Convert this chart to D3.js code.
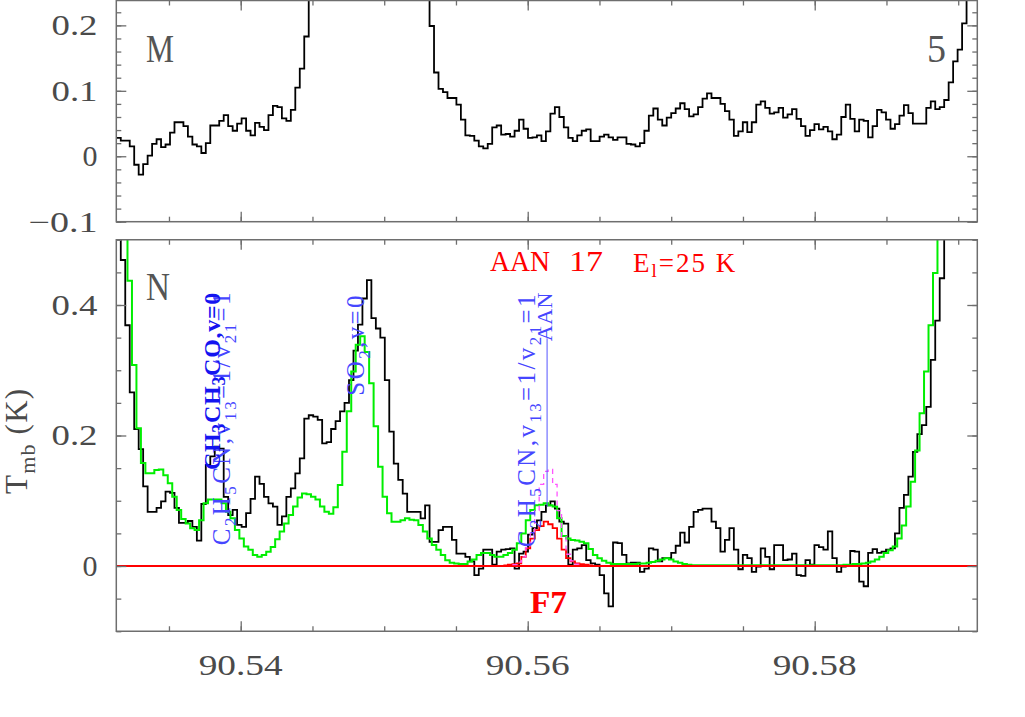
<!DOCTYPE html>
<html><head><meta charset="utf-8">
<script src="https://cdn.jsdelivr.net/npm/d3@7"></script>
<style>
html,body{margin:0;padding:0;background:#fff;}
svg{display:block;}
text{font-family:"Liberation Serif","Times New Roman",serif;}
</style></head>
<body><svg id="c" width="1025" height="717"></svg>
<script>
// ---------------- data ----------------
const freqStart = 90.53133;      // GHz, first channel edge
const chanWidth = 0.00031185;    // GHz per channel
const modelOffset = 0.5;         // model channels shifted by half a channel
const xMajorTicks = [90.54, 90.56, 90.58];
const xTickLabels = ["90.54", "90.56", "90.58"];
const topYTicks = [0.2, 0.1, 0, -0.1];
const topYLabels = ["0.2", "0.1", "0", "\u22120.1"];
const botYTicks = [0.4, 0.2, 0];
const botYLabels = ["0.4", "0.2", "0"];

// Sgr B2(M) observed spectrum (K)
const specM = [0.028,0.024,0.024,0.015,-0.013,-0.028,-0.012,0.001,0.019,0.026,
0.014,0.018,0.036,0.052,0.052,0.046,0.030,0.018,0.015,0.005,
0.020,0.047,0.047,0.054,0.063,0.046,0.039,0.050,0.058,0.039,
0.032,0.051,0.045,0.040,0.063,0.077,0.075,0.058,0.054,0.071,
0.105,0.134,0.183,
0.27,0.32,0.40,0.50,0.70,0.90,1.20,1.50,1.80,2.00,2.10,2.00,1.80,1.50,1.30,1.10,0.90,0.80,0.70,0.60,0.50,0.45,0.40,0.35,0.32,0.29,0.26,
0.199,0.128,0.103,0.098,0.089,0.089,0.079,0.056,0.032,0.031,
0.024,0.015,0.012,0.019,0.044,0.047,0.033,0.034,0.030,0.039,
0.056,0.042,0.028,0.029,0.032,0.023,0.038,0.065,0.075,0.060,
0.044,0.028,0.023,0.032,0.039,0.041,0.023,0.023,0.030,0.033,
0.029,0.025,0.029,0.029,0.019,0.018,0.015,0.020,0.039,0.062,
0.073,0.056,0.047,0.059,0.066,0.073,
0.081,0.072,0.061,0.064,0.075,0.088,0.096,0.089,0.089,0.080,
0.069,0.056,0.031,0.038,0.052,0.037,0.052,0.079,0.084,0.074,
0.065,0.067,0.074,0.059,0.064,0.072,0.057,0.046,0.031,0.040,
0.049,0.041,0.045,0.038,0.026,0.033,0.060,0.079,0.057,0.038,
0.056,0.054,0.029,0.046,0.071,0.067,0.056,0.042,0.049,0.062,
0.078,0.066,0.050,0.050,0.050,0.074,0.084,0.072,0.075,0.086,
0.113,0.145,0.163,0.203,0.30,0.40];

// Sgr B2(N) observed spectrum (K)
const specN = [0.60,
0.469,0.369,0.266,0.210,0.179,0.122,0.083,0.083,0.089,0.099,
0.114,0.112,0.089,0.066,0.066,0.069,0.060,0.039,0.095,0.155,
0.168,0.183,0.180,0.106,0.078,0.086,0.063,0.060,0.081,0.103,
0.137,0.126,0.106,0.096,0.091,0.063,0.076,0.106,0.119,0.142,
0.165,0.226,0.231,0.229,0.224,0.188,0.190,0.210,0.222,0.237,
0.250,0.285,0.330,0.370,0.410,0.438,0.380,0.364,0.350,0.285,
0.206,
0.157,0.132,0.111,0.083,0.083,0.083,0.073,0.093,0.037,
0.037,0.055,0.060,0.060,0.040,0.019,0.019,0.014,0.007,-0.014,
-0.004,0.025,0.025,0.002,0.022,0.025,0.026,0.027,-0.004,0.019,
0.022,0.048,0.058,0.070,0.083,0.093,0.099,0.088,0.068,0.065,
0.002,0.025,0.027,0.032,0.009,0.004,0.002,-0.014,-0.042,-0.062,
0.036,0.035,0.017,0.004,0.005,0.005,-0.009,-0.004,0.027,0.025,
0.007,0.012,0.012,0.020,0.031,
0.051,0.036,0.060,0.083,0.086,0.088,0.088,0.068,0.058,0.022,
0.040,0.058,0.025,-0.005,0.017,0.012,-0.009,-0.001,0.027,0.014,
-0.005,0.032,0.032,0.009,0.010,0.019,-0.014,-0.015,0.009,0.002,
0.032,0.029,0.025,0.053,0.012,-0.009,-0.001,0.000,0.023,0.022,
-0.024,-0.031,0.020,0.026,0.020,0.022,0.025,0.027,0.050,0.089,
0.109,0.137,0.175,0.202,0.216,0.244,0.316,0.376,0.441,
0.55,0.65,0.75,0.85,0.95,1.05,1.15];

// full model, all species (green)
const modelAll = [0.65,0.55,0.437,0.308,0.211,0.158,
0.142,0.142,0.147,0.148,0.139,0.127,0.106,0.086,0.072,0.065,
0.058,0.055,0.070,0.096,0.102,0.102,0.102,0.096,0.083,0.073,
0.055,0.042,0.030,0.025,0.017,0.014,0.017,0.022,0.029,0.041,
0.053,0.065,0.078,0.091,0.105,0.111,0.110,0.106,0.102,0.091,
0.083,0.080,0.090,0.124,0.175,0.237,0.298,0.339,0.352,0.328,
0.280,0.214,0.152,
0.106,0.081,0.068,0.068,0.070,0.073,0.071,0.070,0.063,0.053,
0.042,0.032,0.025,0.017,0.009,0.005,0.004,0.003,0.003,0.007,
0.010,0.017,0.020,0.020,0.017,0.014,0.014,0.017,0.020,0.025,
0.035,0.050,0.070,0.086,0.093,0.094,0.096,0.093,0.091,0.073,
0.046,0.042,0.040,0.039,0.037,0.035,0.026,0.017,0.012,0.008,
0.005,0.003,
0.003,0.003,0.003,0.003,0.003,0.004,
0.004,0.005,0.006,0.008,0.010,0.012,0.010,0.007,0.005,0.003,0.002,
0.001,0.001,0.001,0.001,0.001,0.001,0.001,0.001,0.001,0.001,0.001,
0.001,0.001,0.001,0.001,0.001,0.001,0.001,0.001,0.001,0.001,0.001,
0.001,0.001,0.001,0.001,0.001,0.001,0.001,0.001,0.001,0.001,0.001,
0.001,0.002,0.002,0.003,0.003,0.004,0.005,0.007,0.010,0.014,0.020,
0.024,0.030,0.042,0.062,0.091,0.129,0.177,0.234,0.298,0.369,0.449,
0.55,0.65,0.75,0.85,0.95,1.05,1.15,1.25];

// AAN model (red), starting at model channel 86
const aanStart = 86;
const modelAAN = [0.001,0.002,0.003,0.004,0.014,0.027,0.042,0.055,0.061,0.068,
0.064,0.058,0.042,0.025,0.012,0.007,0.004,0.003,0.002,0.001];

// other-species model (magenta dashed), starting at model channel 88
const otherStart = 88;
const modelOther = [0.002,0.006,0.014,0.028,0.052,0.085,0.125,0.145,0.148,0.125,
0.085,0.045,0.018,0.008,0.003];

const aanLineFreq = 90.56135;
const aanLineTop = 0.349, aanLineBottom = 0.091;

// ---------------- drawing ----------------
const svg = d3.select("#c");
const frameColor = "#6e6e6e", labelColor = "#4a4a4a";
const x = d3.scaleLinear().domain([90.53133, 90.59133]).range([116.3, 977.3]);
const yTop = d3.scaleLinear().domain([-0.1, 0.238]).range([221.7, 0.5]);
const yBot = d3.scaleLinear().domain([-0.1, 0.5]).range([631.25, 239.75]);

function stepData(vals, start, offset) {
  const pts = vals.map((v, i) => ({f: freqStart + (start + i + offset) * chanWidth, v}));
  pts.push({f: freqStart + (start + vals.length + offset) * chanWidth, v: vals[vals.length - 1]});
  return pts;
}
function lineGen(y) {
  return d3.line().x(d => x(d.f)).y(d => y(d.v)).curve(d3.curveStepAfter);
}

const defs = svg.append("defs");
function clip(id, y) {
  defs.append("clipPath").attr("id", id).append("rect")
    .attr("x", x.range()[0]).attr("y", y.range()[1])
    .attr("width", x.range()[1] - x.range()[0]).attr("height", y.range()[0] - y.range()[1]);
}
clip("cTop", yTop); clip("cBot", yBot);

const xMinor = d3.range(0, 12).map(i => +(90.535 + 0.005 * i).toFixed(3));

function frame(y, yMajor, yMinor) {
  const g = svg.append("g");
  const yb = y.range()[0], yt = y.range()[1];
  const xl = x.range()[0], xr = x.range()[1];
  const ax = (axis, tr) => g.append("g").attr("class", "ax").attr("transform", tr).call(axis);
  ax(d3.axisBottom(x).tickValues(xMinor).tickSize(-5).tickFormat(""), `translate(0,${yb})`);
  ax(d3.axisBottom(x).tickValues(xMajorTicks).tickSize(-10).tickFormat(""), `translate(0,${yb})`);
  ax(d3.axisTop(x).tickValues(xMinor).tickSize(-5).tickFormat(""), `translate(0,${yt})`);
  ax(d3.axisTop(x).tickValues(xMajorTicks).tickSize(-10).tickFormat(""), `translate(0,${yt})`);
  ax(d3.axisLeft(y).tickValues(yMinor).tickSize(-5).tickFormat(""), `translate(${xl},0)`);
  ax(d3.axisLeft(y).tickValues(yMajor).tickSize(-10).tickFormat(""), `translate(${xl},0)`);
  ax(d3.axisRight(y).tickValues(yMinor).tickSize(-5).tickFormat(""), `translate(${xr},0)`);
  ax(d3.axisRight(y).tickValues(yMajor).tickSize(-10).tickFormat(""), `translate(${xr},0)`);
  g.selectAll(".ax .domain").remove();
  g.selectAll(".ax line").attr("stroke", frameColor).attr("stroke-width", 1.3);
  g.append("rect").attr("x", xl).attr("y", yt).attr("width", xr - xl).attr("height", yb - yt)
    .attr("fill", "none").attr("stroke", frameColor).attr("stroke-width", 1.5);
}

// ---- top panel (M) ----
const gT = svg.append("g").attr("clip-path", "url(#cTop)");
gT.append("path").datum(stepData(specM, 0, 0)).attr("d", lineGen(yTop))
  .attr("fill", "none").attr("stroke", "#000").attr("stroke-width", 1.8);
frame(yTop, [-0.1, 0, 0.1, 0.2], d3.range(-5, 12).map(i => +(i * 0.02).toFixed(2)));

// ---- bottom panel (N) ----
const gB = svg.append("g").attr("clip-path", "url(#cBot)");
gB.append("path").datum(stepData(specN, 0, 0)).attr("d", lineGen(yBot))
  .attr("fill", "none").attr("stroke", "#000").attr("stroke-width", 1.8);
gB.append("path").datum(stepData(modelAll, 0, modelOffset)).attr("d", lineGen(yBot))
  .attr("fill", "none").attr("stroke", "#00ee00").attr("stroke-width", 2);
gB.append("line").attr("x1", x.range()[0]).attr("x2", x.range()[1])
  .attr("y1", yBot(0)).attr("y2", yBot(0)).attr("stroke", "#ff0000").attr("stroke-width", 1.8);
gB.append("path").datum(stepData(modelAAN, aanStart, modelOffset)).attr("d", lineGen(yBot))
  .attr("fill", "none").attr("stroke", "#ff0000").attr("stroke-width", 1.8);
gB.append("path").datum(stepData(modelOther, otherStart, modelOffset)).attr("d", lineGen(yBot))
  .attr("fill", "none").attr("stroke", "#ff55ff").attr("stroke-width", 1.3).attr("stroke-dasharray", "5,4");
gB.append("line").attr("x1", x(aanLineFreq)).attr("x2", x(aanLineFreq))
  .attr("y1", yBot(aanLineTop)).attr("y2", yBot(aanLineBottom)).attr("stroke", "#5555ff").attr("stroke-width", 1);
frame(yBot, [0, 0.2, 0.4], d3.range(-2, 11).map(i => +(i * 0.05).toFixed(2)));

// ---- tick labels ----
function tickLabel(txt, xp, yp, anchor, len) {
  svg.append("text").attr("x", xp).attr("y", yp).attr("text-anchor", anchor)
    .attr("font-size", 29).attr("fill", labelColor)
    .attr("textLength", len).attr("lengthAdjust", "spacingAndGlyphs").text(txt);
}
xMajorTicks.forEach((v, i) => tickLabel(xTickLabels[i], x(v), 675, "middle", 84));
const yLen = s => s.length === 1 ? 15 : (s.length === 3 ? 46 : 69);
topYTicks.forEach((v, i) => tickLabel(topYLabels[i], 97.5, yTop(v) + 9.8, "end", yLen(topYLabels[i])));
botYTicks.forEach((v, i) => tickLabel(botYLabels[i], 97.5, yBot(v) + 9.8, "end", yLen(botYLabels[i])));

// ---- rich text helper (subscripts) ----
function rich(sel, parts, subSize, subDy) {
  let prevSub = false;
  parts.forEach(([s, sub]) => {
    const t = sel.append("tspan").text(s);
    if (sub) { t.attr("font-size", subSize).attr("dy", prevSub ? 0 : subDy); }
    else if (prevSub) { t.attr("dy", -subDy); }
    prevSub = sub;
  });
  return sel;
}

// y axis title
rich(svg.append("text").attr("transform", "translate(27,494) rotate(-90)")
  .attr("font-size", 31).attr("fill", labelColor).attr("letter-spacing", 1.2),
  [["T", false], ["mb", true], [" (K)", false]], 22, 8);

// panel letters
function panelText(txt, xp, yp, len) {
  svg.append("text").attr("x", xp).attr("y", yp).attr("font-size", 40).attr("fill", "#555")
    .attr("textLength", len).attr("lengthAdjust", "spacingAndGlyphs").text(txt);
}
panelText("M", 146, 62, 28);
panelText("5", 927, 62, 19);
panelText("N", 146, 300, 24);

// red transition labels
svg.append("text").attr("x", 490).attr("y", 271).attr("font-size", 30).attr("fill", "#ff0000")
  .attr("textLength", 60).attr("lengthAdjust", "spacingAndGlyphs").text("AAN");
svg.append("text").attr("x", 569).attr("y", 271).attr("font-size", 30).attr("fill", "#ff0000")
  .attr("textLength", 34).attr("lengthAdjust", "spacingAndGlyphs").text("17");
rich(svg.append("text").attr("x", 633).attr("y", 272).attr("font-size", 27).attr("fill", "#ff0000")
  .attr("letter-spacing", 2),
  [["E", false], ["l", true], ["=25 K", false]], 19, 5);
svg.append("text").attr("x", 530).attr("y", 613).attr("font-size", 32).attr("font-weight", "bold")
  .attr("fill", "#ff0000").attr("textLength", 37).attr("lengthAdjust", "spacingAndGlyphs").text("F7");

// blue rotated line labels
function vlabel(xp, yp, parts, opts) {
  const t = svg.append("text").attr("transform", `translate(${xp},${yp}) rotate(-90)`)
    .attr("text-anchor", "end").attr("font-size", opts.size).attr("fill", opts.color)
    .attr("letter-spacing", opts.ls).attr("font-weight", opts.bold ? "bold" : "normal");
  rich(t, parts, opts.sub, opts.dy);
}
const thin = {size: 25, sub: 17, dy: 6, ls: 2.4, color: "#4646ff", bold: false};
vlabel(230, 290, [["C", false], ["2", true], ["H", false], ["5", true], ["CN,v", false], ["13", true],
  ["=1/v", false], ["21", true], ["=1", false]], thin);
vlabel(220, 292, [["CH", false], ["3", true], ["CH", false], ["3", true], ["CO,v=0", false]],
  {size: 24, sub: 18, dy: 5, ls: 0.7, color: "#1414f0", bold: true});
vlabel(364, 293, [["SO", false], ["2", true], [",v=0", false]], thin);
vlabel(535, 292, [["C", false], ["2", true], ["H", false], ["5", true], ["CN,v", false], ["13", true],
  ["=1/v", false], ["21", true], ["=1", false]], thin);
vlabel(552, 292, [["AAN", false]], {size: 22, sub: 15, dy: 5, ls: 0.5, color: "#4646ff", bold: false});
</script>
</body></html>
